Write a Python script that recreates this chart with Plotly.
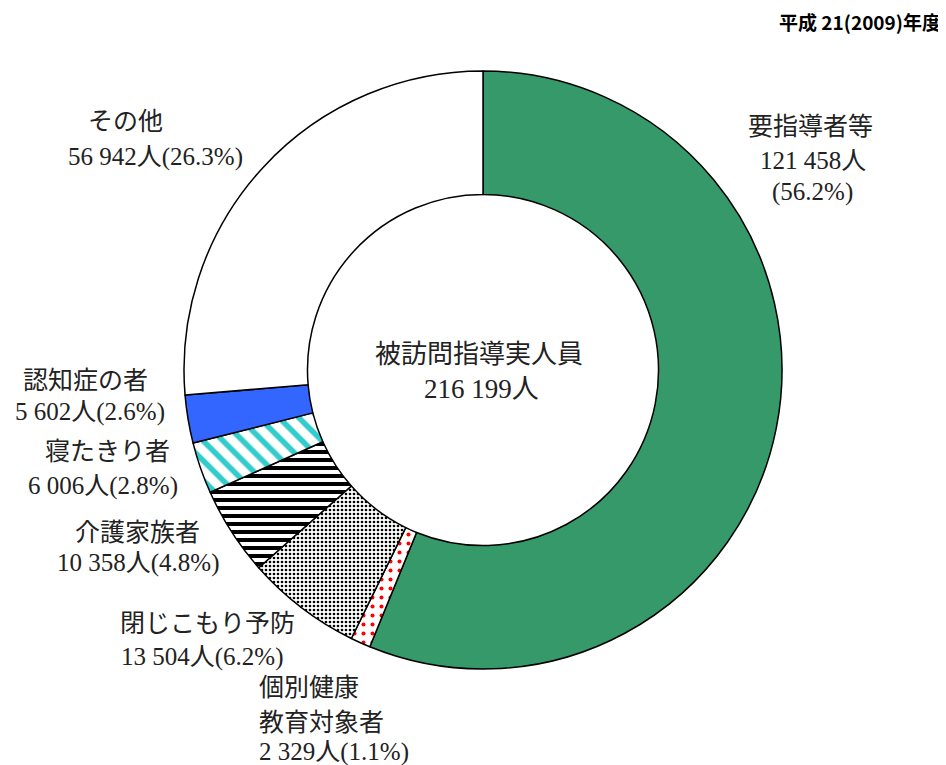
import plotly.graph_objects as go

# page window and the browser's default 8px body margin
WIN_W, WIN_H, OFF = 946, 765, 8
W, H = WIN_W - OFF, WIN_H - OFF

categories = ["要指導者等", "個別健康教育対象者", "閉じこもり予防", "介護家族者", "寝たきり者", "認知症の者", "その他"]
values = [121458, 2329, 13504, 10358, 6006, 5602, 56942]
percents = ["56.2%", "1.1%", "6.2%", "4.8%", "2.8%", "2.6%", "26.3%"]
total_label = "216 199人"
center_title = "被訪問指導実人員"
year_title = "平成 21(2009)年度"

bg_colors = ["#36996A", "#FFFFFF", "#FFFFFF", "#FFFFFF", "#FFFFFF", "#3366FF", "#FFFFFF"]
fg_colors = ["#36996A", "#FF0000", "#000000", "#000000", "#33CCCC", "#3366FF", "#FFFFFF"]
shapes = ["", ".", ".", "-", "\\", "", ""]
sizes = [8, 9, 4, 8, 14, 8, 8]
solidities = [0.3, 0.16, 0.35, 0.5, 0.4, 0.3, 0.3]

# label lines: (text, x_px, y_px, anchor) in window pixels
label_lines = [
    ("要指導者等", 810, 126, "center"),
    ("121 458人", 813, 160, "center"),
    ("(56.2%)", 812, 192, "center"),
    ("その他", 125, 122, "center"),
    ("56 942人(26.3%)", 155, 157, "center"),
    ("認知症の者", 85, 380, "center"),
    ("5 602人(2.6%)", 90, 412, "center"),
    ("寝たきり者", 107, 451, "center"),
    ("6 006人(2.8%)", 103, 486, "center"),
    ("介護家族者", 137, 532, "center"),
    ("10 358人(4.8%)", 138, 563, "center"),
    ("閉じこもり予防", 207, 623, "center"),
    ("13 504人(6.2%)", 202, 657, "center"),
    ("個別健康", 257, 687, "left"),
    ("教育対象者", 257, 722, "left"),
    ("2 329人(1.1%)", 257, 752, "left"),
]

FONT = "Liberation Serif, Noto Sans CJK JP, serif"


def px(x):
    return (x - OFF) / W


def py(y):
    return 1 - (y - OFF) / H


cx, cy, R = 483, 370, 299
fig = go.Figure(go.Pie(
    labels=categories,
    values=values,
    sort=False,
    direction="clockwise",
    rotation=0,
    hole=0.587,
    textinfo="none",
    hoverinfo="label+value+percent",
    showlegend=False,
    marker=dict(
        colors=bg_colors,
        line=dict(color="#000000", width=1.5),
        pattern=dict(shape=shapes, fgcolor=fg_colors, bgcolor=bg_colors,
                     size=sizes, solidity=solidities, fillmode="overlay", fgopacity=1),
    ),
    domain=dict(x=[px(cx - R), px(cx + R)], y=[py(cy + R), py(cy - R)]),
))

ann = []
for text, xp, yp, anchor in label_lines:
    ann.append(dict(text=text, x=px(xp), y=py(yp), xref="paper", yref="paper",
                    xanchor=anchor, yanchor="middle", showarrow=False,
                    font=dict(family=FONT, size=25, color="#222222")))
ann.append(dict(text=center_title, x=px(479), y=py(355), xref="paper", yref="paper",
                xanchor="center", yanchor="middle", showarrow=False,
                font=dict(family=FONT, size=26, color="#222222")))
ann.append(dict(text=total_label, x=px(482), y=py(389), xref="paper", yref="paper",
                xanchor="center", yanchor="middle", showarrow=False,
                font=dict(family=FONT, size=27, color="#222222")))
ann.append(dict(text="<b>" + year_title + "</b>", x=px(943), y=py(21), xref="paper", yref="paper",
                xanchor="right", yanchor="middle", showarrow=False,
                font=dict(family="Noto Sans CJK JP, sans-serif", size=19, color="#000000")))

fig.update_layout(
    width=W, height=H,
    margin=dict(l=0, r=0, t=0, b=0),
    paper_bgcolor="#FFFFFF", plot_bgcolor="#FFFFFF",
    annotations=ann,
)

fig.write_html("out.html")
